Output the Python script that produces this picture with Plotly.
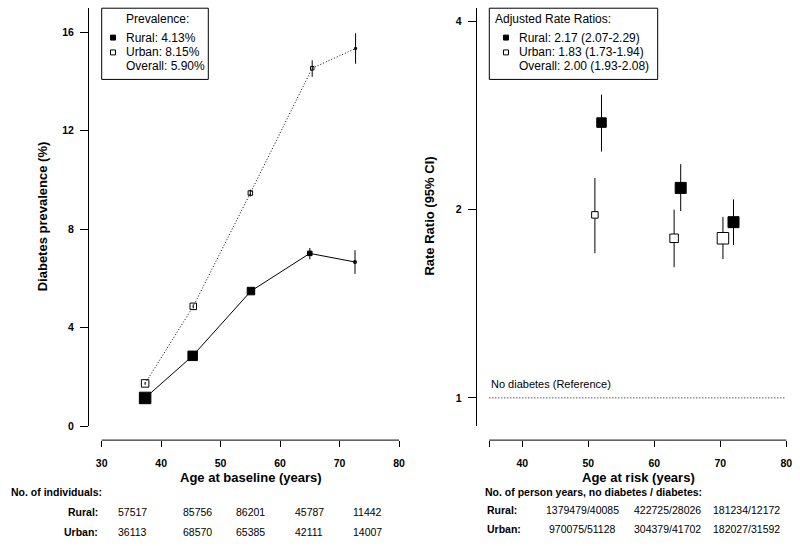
import math
import plotly.graph_objects as go

# ---------------- data ----------------
# Left panel: prevalence by age at baseline
rural_age = [37.3, 45.3, 55.1, 65.0, 72.6]
rural_prev = [1.15, 2.86, 5.49, 7.02, 6.67]
rural_prev_lo = [1.10, 2.80, 5.42, 6.78, 6.19]
rural_prev_hi = [1.20, 2.92, 5.56, 7.24, 7.15]

urban_age = [37.3, 45.4, 55.0, 65.4, 72.7]
urban_prev = [1.74, 4.87, 9.47, 14.54, 15.34]
urban_prev_lo = [1.68, 4.79, 9.33, 14.19, 14.72]
urban_prev_hi = [1.80, 4.95, 9.61, 14.86, 15.96]

baseline_ticks = [30, 40, 50, 60, 70, 80]
prev_ticks = [0, 4, 8, 12, 16]

rural_n = ["57517", "85756", "86201", "45787", "11442"]
urban_n = ["36113", "68570", "65385", "42111", "14007"]

# Right panel: rate ratios by age at risk
rural_risk_age = [52.0, 64.0, 72.0]
rural_rr = [2.756, 2.167, 1.91]
rural_rr_lo = [2.477, 1.99, 1.756]
rural_rr_hi = [3.055, 2.365, 2.077]

urban_risk_age = [51.0, 63.0, 70.4]
urban_rr = [1.962, 1.80, 1.80]
urban_rr_lo = [1.704, 1.618, 1.667]
urban_rr_hi = [2.247, 2.00, 1.948]

reference_age = [35, 80]
reference_rr = [1, 1]

risk_ticks = [35, 40, 50, 60, 70, 80]
risk_tick_text = ["", "40", "50", "60", "70", "80"]
rr_ticks = [1, 2, 4]

rural_py = ["1379479/40085", "422725/28026", "181234/12172"]
urban_py = ["970075/51128", "304379/41702", "182027/31592"]

legend_left = ["Prevalence:", "Rural: 4.13%", "Urban: 8.15%", "Overall: 5.90%"]
legend_right = ["Adjusted Rate Ratios:", "Rural: 2.17 (2.07-2.29)",
                "Urban: 1.83 (1.73-1.94)", "Overall: 2.00 (1.93-2.08)"]

# ---------------- styles ----------------
W, H = 800, 546
FONT = "Liberation Sans, Arial, Helvetica, sans-serif"
rural_size_left = [11.5, 9.5, 7.5, 4.5, 2.5]
urban_size_left = [7.5, 6.5, 4.5, 3.5, 2]
rural_size_right = [9.5, 11, 11]
urban_size_right = [6.5, 8.5, 11.5]


def px(x):
    return x / W


def py(y):
    return 1 - y / H


def err(vals, lo, hi):
    return dict(type="data", symmetric=False,
                array=[h - v for v, h in zip(vals, hi)],
                arrayminus=[v - l for v, l in zip(vals, lo)],
                thickness=1, width=0, color="black")


fig = go.Figure()

# Left panel traces
fig.add_trace(go.Scatter(
    x=urban_age, y=urban_prev, mode="lines+markers", xaxis="x", yaxis="y",
    line=dict(color="black", width=1, dash="1px,2px"),
    marker=dict(symbol="square", size=urban_size_left, color="rgba(0,0,0,0)",
                opacity=1, line=dict(color="black", width=1)),
    error_y=err(urban_prev, urban_prev_lo, urban_prev_hi), showlegend=False))
fig.add_trace(go.Scatter(
    x=rural_age, y=rural_prev, mode="lines+markers", xaxis="x", yaxis="y",
    line=dict(color="black", width=1),
    marker=dict(symbol="square", size=rural_size_left, color="#000000",
                opacity=1, line=dict(color="#000000", width=1)),
    error_y=err(rural_prev, rural_prev_lo, rural_prev_hi), showlegend=False))

# Right panel traces
fig.add_trace(go.Scatter(
    x=reference_age, y=reference_rr, mode="lines", xaxis="x2", yaxis="y2",
    line=dict(color="black", width=1, dash="1px,2px"), showlegend=False))
fig.add_trace(go.Scatter(
    x=urban_risk_age, y=urban_rr, mode="markers", xaxis="x2", yaxis="y2",
    marker=dict(symbol="square", size=urban_size_right, color="white",
                opacity=1, line=dict(color="black", width=1)),
    error_y=err(urban_rr, urban_rr_lo, urban_rr_hi), showlegend=False))
fig.add_trace(go.Scatter(
    x=rural_risk_age, y=rural_rr, mode="markers", xaxis="x2", yaxis="y2",
    marker=dict(symbol="square", size=rural_size_right, color="#000000",
                opacity=1, line=dict(color="#000000", width=1)),
    error_y=err(rural_rr, rural_rr_lo, rural_rr_hi), showlegend=False))

tickfont = dict(family=FONT, size=10.5, color="black", weight="bold")
x_axis_y = 445
xpos = py(x_axis_y)

# axis geometry (pixels)
L_Y_AXIS, L_RIGHT = 89, 405
R_Y_AXIS, R_RIGHT = 476.7, 792
Y_TOP, Y_BOT = 8.3, 431

# left x scale: 30 -> 101.7px, 80 -> 399px
lsc = (399 - 101.7) / 50
lx_range = [30 - (101.7 - L_Y_AXIS) / lsc, 30 + (L_RIGHT - 101.7) / lsc]
# right x scale: 35 -> 489.3px, 80 -> 786.3px
rsc = (786.3 - 489.3) / 45
rx_range = [35 - (489.3 - R_Y_AXIS) / rsc, 35 + (R_RIGHT - 489.3) / rsc]
# right y (log2): 1 -> 402.3px, 4 -> 21.7px
lpx = (402.3 - 21.7) / 2
log2_lo = -(Y_BOT - 402.3) / lpx
log2_hi = 2 + (21.7 - Y_TOP) / lpx
ry_range = [log2_lo * math.log10(2), log2_hi * math.log10(2)]
# left y: 0 -> 431px, 16 -> 32.6px
ly_sc = (431 - 32.6) / 16
ly_range = [0, (Y_BOT - Y_TOP) / ly_sc]

fig.update_layout(
    width=W, height=H, margin=dict(l=0, r=0, t=0, b=0),
    paper_bgcolor="white", plot_bgcolor="white",
    font=dict(family=FONT, color="black"),
    xaxis=dict(domain=[px(L_Y_AXIS), px(L_RIGHT)], range=lx_range,
               anchor="free", position=xpos, showline=False, showgrid=False,
               zeroline=False, ticks="outside", ticklen=6, tickwidth=1,
               tickcolor="black", tickvals=baseline_ticks, tickfont=tickfont,
               ticklabelstandoff=7),
    yaxis=dict(domain=[py(Y_BOT), py(Y_TOP)], range=ly_range, anchor="x",
               showline=True, linecolor="black", linewidth=1, showgrid=False,
               zeroline=False, ticks="outside", ticklen=8, tickwidth=1,
               tickcolor="black", tickvals=prev_ticks, tickfont=tickfont,
               ticklabelstandoff=4),
    xaxis2=dict(domain=[px(R_Y_AXIS), px(R_RIGHT)], range=rx_range,
                anchor="free", position=xpos, showline=False, showgrid=False,
                zeroline=False, ticks="outside", ticklen=6, tickwidth=1,
                tickcolor="black", tickvals=risk_ticks, ticktext=risk_tick_text,
                tickfont=tickfont, ticklabelstandoff=7),
    yaxis2=dict(domain=[py(Y_BOT), py(Y_TOP)], type="log", range=ry_range,
                anchor="x2", showline=True, linecolor="black", linewidth=1,
                showgrid=False, zeroline=False, ticks="outside", ticklen=8,
                tickwidth=1, tickcolor="black", tickvals=rr_ticks,
                ticktext=[str(v) for v in rr_ticks], tickfont=tickfont,
                ticklabelstandoff=4),
)

shapes = []
# x-axis lines spanning first to last tick
shapes.append(dict(type="line", xref="x", yref="paper",
                   x0=baseline_ticks[0], x1=baseline_ticks[-1], y0=xpos, y1=xpos,
                   line=dict(color="black", width=1)))
shapes.append(dict(type="line", xref="x2", yref="paper",
                   x0=risk_ticks[0], x1=risk_ticks[-1], y0=xpos, y1=xpos,
                   line=dict(color="black", width=1)))
# legend boxes
shapes.append(dict(type="rect", xref="paper", yref="paper",
                   x0=px(101.7), x1=px(208.3), y0=py(80.3), y1=py(8.3),
                   line=dict(color="black", width=1), fillcolor="white", layer="above"))
shapes.append(dict(type="rect", xref="paper", yref="paper",
                   x0=px(489.3), x1=px(657.7), y0=py(80.3), y1=py(8.3),
                   line=dict(color="black", width=1), fillcolor="white", layer="above"))
# legend symbols
for cx in (113, 506):
    shapes.append(dict(type="rect", xref="paper", yref="paper",
                       x0=px(cx - 2.5), x1=px(cx + 2.5), y0=py(40.5), y1=py(35.5),
                       line=dict(color="black", width=1), fillcolor="black", layer="above"))
    shapes.append(dict(type="rect", xref="paper", yref="paper",
                       x0=px(cx - 2.5), x1=px(cx + 2.5), y0=py(55.5), y1=py(50.5),
                       line=dict(color="black", width=1), fillcolor="white", layer="above"))
fig.update_layout(shapes=shapes)

ann = []


def text(x, y, s, size=10.5, bold=False, xanchor="center", angle=0):
    f = dict(family=FONT, size=size, color="black")
    if bold:
        f["weight"] = "bold"
    ann.append(dict(x=px(x), y=py(y), xref="paper", yref="paper", text=s,
                    showarrow=False, xanchor=xanchor, yanchor="middle",
                    font=f, textangle=angle))


# legend texts
leg_y = [19, 38, 53, 67]
text(124, leg_y[0], legend_left[0], size=12, xanchor="left")
for yy, s in zip(leg_y[1:], legend_left[1:]):
    text(124, yy, s, size=12, xanchor="left")
text(492.7, leg_y[0], legend_right[0], size=12, xanchor="left")
for yy, s in zip(leg_y[1:], legend_right[1:]):
    text(516.7, yy, s, size=12, xanchor="left")

# axis titles
text(250.5, 483, "Age at baseline (years)", size=13, bold=True)
text(638, 483, "Age at risk (years)", size=13, bold=True)
text(42.7, 219, "Diabetes prevalence (%)", size=13, bold=True, angle=-90)
text(430, 219, "Rate Ratio (95% CI)", size=13, bold=True, angle=-90)

# reference label
text(489.3, 388.3, "No diabetes (Reference)", size=11, xanchor="left")

# left table
text(9.3, 497, "No. of individuals:", bold=True, xanchor="left")
text(100, 518, "Rural:", bold=True, xanchor="right")
text(100, 538, "Urban:", bold=True, xanchor="right")
left_cols = [132, 197, 250, 309, 367]
for cx, r, u in zip(left_cols, rural_n, urban_n):
    text(cx, 518, r)
    text(cx, 538, u)

# right table
text(482.7, 497, "No. of person years, no diabetes / diabetes:", bold=True, xanchor="left")
text(485, 516, "Rural:", bold=True, xanchor="left")
text(485, 535, "Urban:", bold=True, xanchor="left")
right_cols = [582.5, 667.5, 746.7]
for cx, r, u in zip(right_cols, rural_py, urban_py):
    text(cx, 516, r)
    text(cx, 535, u)

fig.update_layout(annotations=ann)

fig.write_html(
    "out.html",
    config={"displayModeBar": False},
    post_script="document.body.style.margin='0px';document.body.style.overflow='hidden';",
)
